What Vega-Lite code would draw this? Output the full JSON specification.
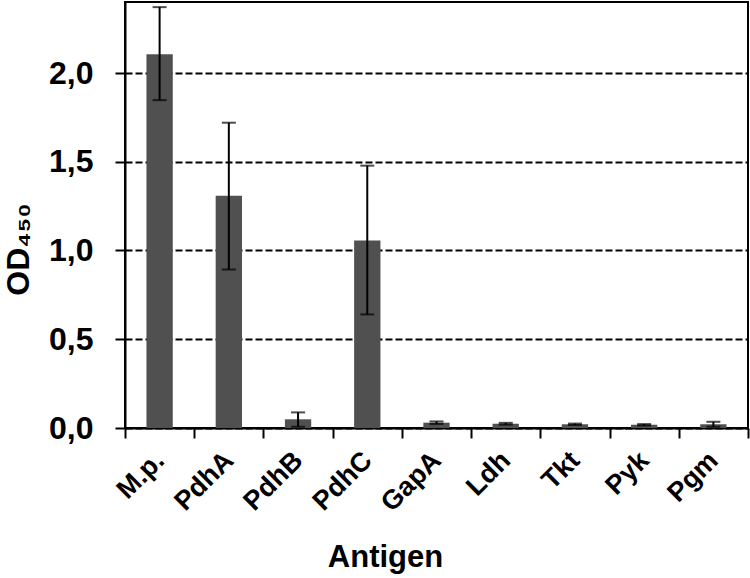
{
  "$schema": "https://vega.github.io/schema/vega-lite/v6.json",
  "width": 623,
  "height": 426,
  "autosize": {"type": "none"},
  "padding": {"left": 125, "top": 2, "right": 2, "bottom": 150},
  "background": "white",
  "config": {
    "font": "Liberation Sans",
    "view": {"stroke": "black", "strokeWidth": 2},
    "axis": {"labelFont": "Liberation Sans", "titleFont": "Liberation Sans", "labelColor": "black", "titleColor": "black", "labelFontWeight": "bold", "titleFontWeight": "bold", "domainColor": "black", "domainWidth": 2, "tickColor": "black", "tickWidth": 2, "tickSize": 10}
  },
  "data": {
    "values": [
      {"antigen": "M.p.", "mean": 2.105, "lo": 1.847, "hi": 2.371},
      {"antigen": "PdhA", "mean": 1.309, "lo": 0.893, "hi": 1.72},
      {"antigen": "PdhB", "mean": 0.049, "lo": 0.007, "hi": 0.088},
      {"antigen": "PdhC", "mean": 1.056, "lo": 0.64, "hi": 1.478},
      {"antigen": "GapA", "mean": 0.03, "lo": 0.023, "hi": 0.037},
      {"antigen": "Ldh", "mean": 0.024, "lo": 0.019, "hi": 0.029},
      {"antigen": "Tkt", "mean": 0.021, "lo": 0.017, "hi": 0.025},
      {"antigen": "Pyk", "mean": 0.018, "lo": 0.014, "hi": 0.022},
      {"antigen": "Pgm", "mean": 0.021, "lo": 0.007, "hi": 0.035}
    ]
  },
  "encoding": {
    "x": {
      "field": "antigen",
      "type": "nominal",
      "sort": null,
      "scale": {"paddingInner": 0, "paddingOuter": 0},
      "axis": {
        "title": "Antigen",
        "titleFontSize": 31,
        "titleX": 260,
        "titleY": 138,
        "titleAlign": "center",
        "titleBaseline": "alphabetic",
        "labelAngle": -45,
        "labelAlign": "right",
        "labelBaseline": "middle",
        "labelFontSize": 27,
        "labelPadding": 18,
        "tickBand": "extent",
        "grid": false
      }
    }
  },
  "layer": [
    {
      "mark": {"type": "bar", "color": "#505050", "width": {"band": 0.38}},
      "encoding": {
        "y": {
          "field": "mean",
          "type": "quantitative",
          "scale": {"domain": [0, 2.4], "nice": false},
          "axis": {
            "title": "OD₄₅₀",
            "titleFontSize": 32,
            "titleAngle": -90,
            "titleX": -97,
            "titleY": 247,
            "titleAlign": "center",
            "titleBaseline": "alphabetic",
            "values": [0, 0.5, 1, 1.5, 2],
            "labelExpr": "replace(format(datum.value, '.1f'), '.', ',')",
            "labelFontSize": 32,
            "labelPadding": 22,
            "grid": true,
            "gridColor": "black",
            "gridDash": [7, 3],
            "gridWidth": 2,
            "gridOpacity": 1
          }
        }
      }
    },
    {
      "mark": {"type": "rule", "color": "black", "strokeWidth": 2},
      "encoding": {
        "y": {"field": "lo", "type": "quantitative"},
        "y2": {"field": "hi"}
      }
    },
    {
      "mark": {"type": "tick", "color": "black", "thickness": 2, "size": 14, "orient": "horizontal"},
      "encoding": {"y": {"field": "hi", "type": "quantitative"}}
    },
    {
      "mark": {"type": "tick", "color": "black", "thickness": 2, "size": 14, "orient": "horizontal"},
      "encoding": {"y": {"field": "lo", "type": "quantitative"}}
    }
  ]
}
